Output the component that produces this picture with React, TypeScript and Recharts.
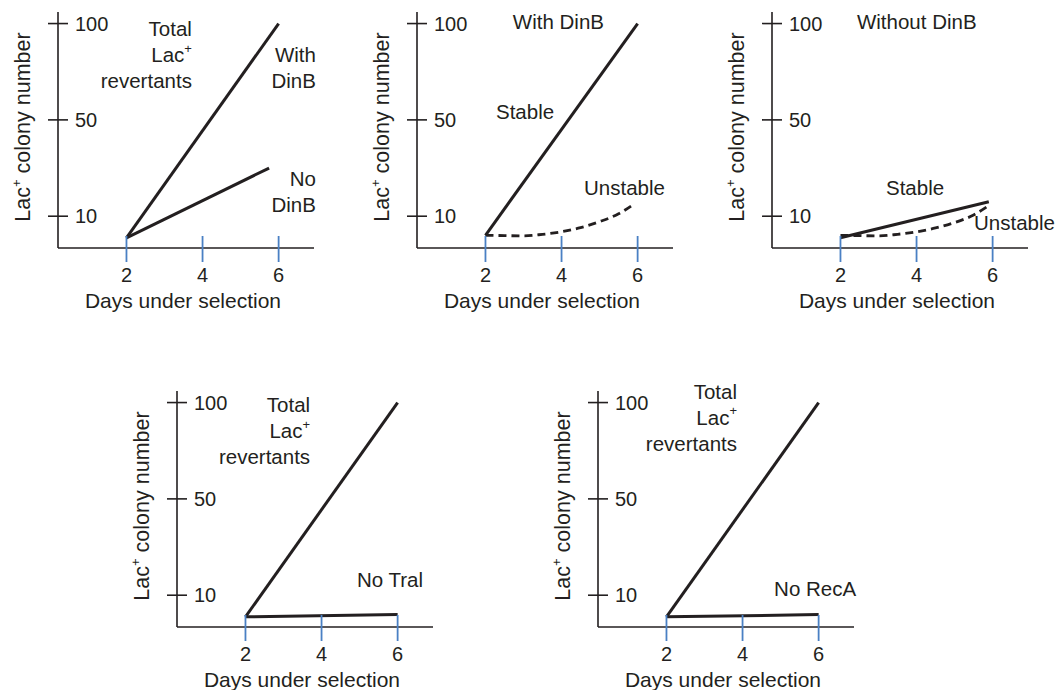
import React from 'react'
import { LineChart, Line, XAxis, YAxis, ReferenceDot } from 'recharts'

const dayTicks = [2, 4, 6]
const countTicks = [10, 50, 100]

// A: total Lac+ revertants, with and without DinB
const withDinBDays = [2, 6]
const withDinBCounts = [3.2, 100]
const noDinBDays = [2, 5.75]
const noDinBCounts = [3.2, 30]

// B: with DinB, stable vs unstable
const stableBDays = [2, 6]
const stableBCounts = [4, 100]
const unstableBDays = [2, 2.5, 3, 3.5, 4, 4.5, 5, 5.5, 5.9]
const unstableBCounts = [4.0, 3.9, 3.8, 4.3, 5.1, 6.4, 8.3, 11, 15]

// C: without DinB, stable vs unstable
const stableCDays = [2, 5.9]
const stableCCounts = [3.2, 16]
const unstableCDays = [2, 2.5, 3, 3.5, 4, 4.5, 5, 5.5, 5.85]
const unstableCCounts = [4.0, 3.9, 3.8, 4.3, 5.1, 6.3, 8.0, 10.5, 13.9]

// D: total vs no TraI
const totalDDays = [2, 6]
const totalDCounts = [3.2, 100]
const noTralDays = [2, 6]
const noTralCounts = [3.2, 3.9]

// E: total vs no RecA
const totalEDays = [2, 6]
const totalECounts = [3.2, 100]
const noRecADays = [2, 6]
const noRecACounts = [3.2, 3.9]

// the y axis is schematic: 10, 50 and 100 sit at equal steps
const knotCounts = [0, 10, 50, 100]
const knotRungs = [0.67, 1, 2, 3]

function rung(v: number) {
  for (let i = 1; i < knotCounts.length; i++) {
    if (v <= knotCounts[i] || i === knotCounts.length - 1) {
      const t = (v - knotCounts[i - 1]) / (knotCounts[i] - knotCounts[i - 1])
      return knotRungs[i - 1] + t * (knotRungs[i] - knotRungs[i - 1])
    }
  }
  return 0
}

const series = (days: number[], counts: number[]) =>
  days.map((d, i) => ({ day: d, v: rung(counts[i]) }))

const INK = '#231f20'
const TICK_BLUE = '#4a80c4'
const FONT = '"Liberation Sans", Arial, Helvetica, sans-serif'

const PLOT_W = 256
const PLOT_H = 236
const ML = 60
const MT = 10
const MR = 50
const MB = 70

function DayTick(props: any) {
  const { x, y, payload } = props
  const ay = y - 8
  return (
    <g>
      <line x1={x} x2={x} y1={ay - 12} y2={ay + 14} stroke={TICK_BLUE} strokeWidth={1.8} />
      <text x={x} y={ay + 27} textAnchor="middle" dominantBaseline="central" fontSize={20} fill={INK} fontFamily={FONT}>
        {payload.value}
      </text>
    </g>
  )
}

function CountTick(props: any) {
  const { x, y, payload } = props
  const ax = x + 8
  const idx = countTicks.findIndex(c => Math.abs(rung(c) - payload.value) < 1e-6)
  return (
    <g>
      <line x1={ax - 10} x2={ax + 10} y1={y} y2={y} stroke={INK} strokeWidth={1.6} />
      <text x={ax + 17} y={y} textAnchor="start" dominantBaseline="central" fontSize={20} fill={INK} fontFamily={FONT}>
        {countTicks[idx]}
      </text>
    </g>
  )
}

function DaysTitle(props: any) {
  const vb = props.viewBox
  return (
    <text x={vb.x + vb.width / 2 - 3} y={vb.y + 52} textAnchor="middle" dominantBaseline="central" fontSize={21} fill={INK} fontFamily={FONT}>
      Days under selection
    </text>
  )
}

function CountTitle(props: any) {
  const vb = props.viewBox
  const cx = vb.x + vb.width - 35
  const cy = vb.y + vb.height / 2 - 3
  return (
    <text x={cx} y={cy} transform={`rotate(-90 ${cx} ${cy})`} textAnchor="middle" dominantBaseline="central" fontSize={21.5} fill={INK} fontFamily={FONT}>
      Lac<tspan dy={-7} fontSize={13}>+</tspan><tspan dy={7}> colony number</tspan>
    </text>
  )
}

function noteLine(s: string) {
  if (s.endsWith('+')) {
    return (
      <>
        {s.slice(0, -1)}
        <tspan dy={-7} fontSize={13}>+</tspan>
      </>
    )
  }
  return s
}

type Note = { day: number; at: number; lines: string[]; anchor: 'start' | 'end' }
type Trace = { days: number[]; counts: number[]; dashed?: boolean }
type PanelSpec = { left: number; top: number; traces: Trace[]; notes: Note[] }

const panels: PanelSpec[] = [
  {
    left: 58,
    top: 12,
    traces: [
      { days: withDinBDays, counts: withDinBCounts },
      { days: noDinBDays, counts: noDinBCounts },
    ],
    notes: [
      { day: 3.72, at: 2.944, lines: ['Total', 'Lac+', 'revertants'], anchor: 'end' },
      { day: 6.98, at: 2.674, lines: ['With', 'DinB'], anchor: 'end' },
      { day: 6.98, at: 1.387, lines: ['No', 'DinB'], anchor: 'end' },
    ],
  },
  {
    left: 417,
    top: 12,
    traces: [
      { days: stableBDays, counts: stableBCounts },
      { days: unstableBDays, counts: unstableBCounts, dashed: true },
    ],
    notes: [
      { day: 2.72, at: 3.017, lines: ['With DinB'], anchor: 'start' },
      { day: 2.277, at: 2.082, lines: ['Stable'], anchor: 'start' },
      { day: 4.59, at: 1.293, lines: ['Unstable'], anchor: 'start' },
    ],
  },
  {
    left: 772,
    top: 12,
    traces: [
      { days: stableCDays, counts: stableCCounts },
      { days: unstableCDays, counts: unstableCCounts, dashed: true },
    ],
    notes: [
      { day: 2.434, at: 3.017, lines: ['Without DinB'], anchor: 'start' },
      { day: 3.197, at: 1.293, lines: ['Stable'], anchor: 'start' },
      { day: 5.51, at: 0.93, lines: ['Unstable'], anchor: 'start' },
    ],
  },
  {
    left: 177,
    top: 391,
    traces: [
      { days: totalDDays, counts: totalDCounts },
      { days: noTralDays, counts: noTralCounts },
    ],
    notes: [
      { day: 3.7, at: 2.975, lines: ['Total', 'Lac+', 'revertants'], anchor: 'end' },
      { day: 4.93, at: 1.158, lines: ['No Tral'], anchor: 'start' },
    ],
  },
  {
    left: 598,
    top: 391,
    traces: [
      { days: totalEDays, counts: totalECounts },
      { days: noRecADays, counts: noRecACounts },
    ],
    notes: [
      { day: 3.854, at: 3.12, lines: ['Total', 'Lac+', 'revertants'], anchor: 'end' },
      { day: 4.83, at: 1.065, lines: ['No RecA'], anchor: 'start' },
    ],
  },
]

function Panel({ spec }: { spec: PanelSpec }) {
  return (
    <div style={{ position: 'absolute', left: spec.left - ML, top: spec.top - MT }}>
      <LineChart
        width={ML + PLOT_W + MR}
        height={MT + PLOT_H + MB}
        margin={{ top: MT, right: MR, bottom: MB - 30, left: ML - 20 }}
      >
        <XAxis
          type="number"
          dataKey="day"
          domain={[0.2, 6.93]}
          ticks={dayTicks}
          allowDataOverflow
          height={30}
          tickSize={6}
          tickMargin={2}
          tickLine={false}
          axisLine={{ stroke: INK, strokeWidth: 1.6 }}
          tick={(p: any) => <DayTick {...p} />}
          label={(p: any) => <DaysTitle {...p} />}
        />
        <YAxis
          type="number"
          domain={[0.67, 3.12]}
          ticks={countTicks.map(rung)}
          allowDataOverflow
          width={20}
          tickSize={6}
          tickMargin={2}
          tickLine={false}
          axisLine={{ stroke: INK, strokeWidth: 1.6 }}
          tick={(p: any) => <CountTick {...p} />}
          label={(p: any) => <CountTitle {...p} />}
        />
        {spec.traces.map((t, i) => (
          <Line
            key={i}
            data={series(t.days, t.counts)}
            dataKey="v"
            type={t.dashed ? 'monotone' : 'linear'}
            stroke={INK}
            strokeWidth={t.dashed ? 2.8 : 3}
            strokeDasharray={t.dashed ? '8 5' : undefined}
            dot={false}
            activeDot={false}
            isAnimationActive={false}
          />
        ))}
        {spec.notes.map((n, i) => (
          <ReferenceDot
            key={`n${i}`}
            x={n.day}
            y={n.at}
            r={0}
            fill="none"
            stroke="none"
            ifOverflow="visible"
            label={(p: any) => {
              const vb = p.viewBox
              return (
                <g>
                  {n.lines.map((s, j) => (
                    <text
                      key={j}
                      x={vb.x}
                      y={vb.y + j * 26}
                      textAnchor={n.anchor}
                      dominantBaseline="central"
                      fontSize={20.5}
                      fill={INK}
                      fontFamily={FONT}
                    >
                      {noteLine(s)}
                    </text>
                  ))}
                </g>
              )
            }}
          />
        ))}
      </LineChart>
    </div>
  )
}

export default function App() {
  return (
    <div
      style={{
        position: 'absolute',
        left: 0,
        top: 0,
        width: 1064,
        height: 690,
        overflow: 'hidden',
        background: '#fff',
        fontFamily: FONT,
      }}
    >
      {panels.map((p, i) => (
        <Panel key={i} spec={p} />
      ))}
    </div>
  )
}
